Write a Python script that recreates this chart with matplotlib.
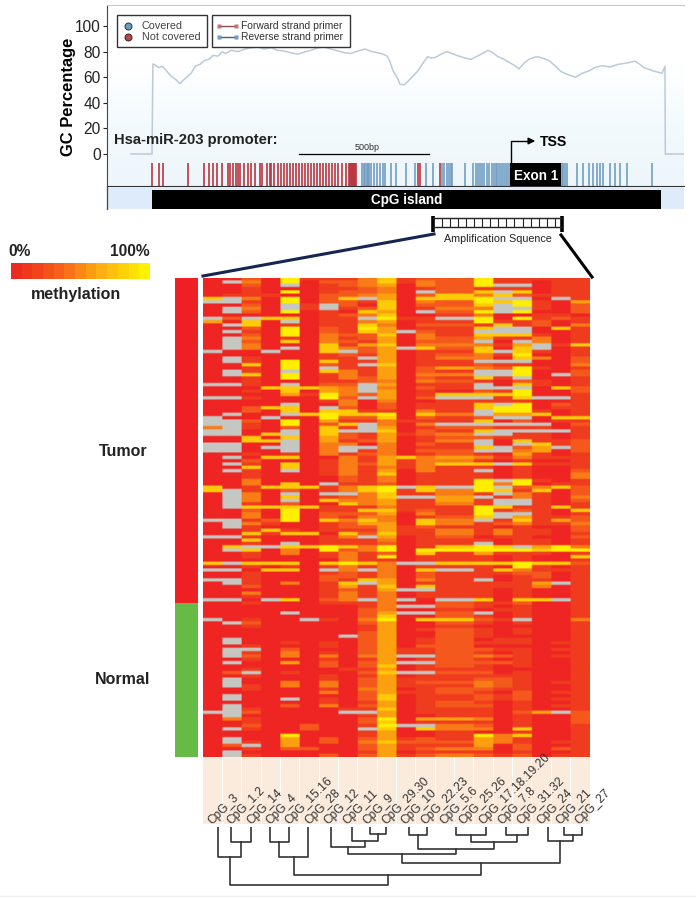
import numpy as np
import matplotlib
matplotlib.use("Agg")
import matplotlib.pyplot as plt
from matplotlib.colors import LinearSegmentedColormap, to_rgb
from matplotlib.patches import Rectangle

plt.rcParams["font.family"] = ["Liberation Sans", "DejaVu Sans"]

W, H = 696, 897

# GC curve (x in bp-ish screen units, y in percent)
gc_x = [131, 152, 152.9, 156, 159, 162, 164.4, 168, 171, 176, 180, 183, 186.7, 191, 195.6, 200, 204.4, 209,
        213, 218, 222, 226, 231, 238, 244, 251, 258, 264, 271, 278, 284, 291, 298, 304, 311, 318, 324, 331,
        338, 345, 351, 358, 365, 372, 378, 383, 387, 390, 393, 397, 400, 404, 407, 412, 418, 423, 427.6,
        431, 435.6, 441, 446.7, 452, 458, 465, 471, 480, 488, 493, 498, 504, 509, 514, 519, 524, 529, 534,
        538, 544, 549, 555, 561, 568, 575.6, 582, 589, 595, 602, 610, 618, 626, 635, 640, 644, 653, 662,
        665, 665.3, 684]
gc_y = [0, 0, 70.4, 69, 67.5, 68.5, 67, 63.5, 60.8, 58, 55, 57.5, 60, 63, 68.8, 70, 73, 74, 77, 76.5, 79.8,
        78.5, 81, 80, 81.8, 83, 83.6, 82, 83, 81, 80.5, 79, 78, 79.5, 81, 83, 83.6, 82, 80.5, 79, 78.5, 80.5,
        82, 80, 79, 78, 76.5, 72, 65, 60, 54.5, 54, 56, 60, 65, 71, 76, 75, 75.5, 78, 80, 78.5, 76.7, 75,
        74, 77.5, 81, 79, 76, 74, 71.6, 69.5, 66.5, 71, 74, 75.5, 76, 74.5, 73, 69, 64.4, 62, 60, 63, 65,
        67.5, 69, 68, 70, 71, 72.5, 70, 67.5, 65, 63, 68.5, 0, 0]
gc_ticks = [0, 20, 40, 60, 80, 100]

# CpG site positions along the promoter
cpg_red = [152.3, 158.7, 163.3, 187.7, 204.3, 209, 213.3, 217.3, 222.3, 228, 230, 233, 236, 238, 240, 244, 248,
           251, 255, 260, 262, 267, 270, 271, 274, 278, 281, 284, 287, 290, 293, 296, 299, 302, 305, 308, 311,
           314, 317, 320, 323, 326, 329, 332, 335, 338, 342, 346, 349, 350, 351, 352, 353, 354, 355, 356,
           418.3, 420, 440]
cpg_blue = [362, 363.5, 365, 366.5, 368, 369, 371, 374, 377, 380, 383, 385, 390.7, 396, 405.7, 415, 426, 433.3,
            442.3, 444.3, 446.7, 448.7, 451, 452.3, 465, 472.7, 476, 477.7, 480, 482, 484.3, 486.7, 488.7,
            491.7, 494, 496, 497.3, 498.7, 500.7, 502.7, 505, 506.7, 509.3, 561.7, 563, 565, 567.3, 577.3,
            582.7, 589.3, 593.3, 596.7, 600, 603.3, 610, 615, 620, 626.7, 652.3]

# methylation per row, levels 0 (red) .. 6 (yellow), G = no data; spaces only for counting
tumor_rows = [
    "00206 11135 12226 11111", "0G306 02235 13226 11011", "0020G 01234 03226 GG011", "00100 01123 01221 11011",
    "00106 01223 0G225 G5011", "01110 02234 02553 52111", "5G306 025G4 05556 GG0G1", "GG106 02215 03226 56104",
    "0020G 1G205 02225 G6102", "0G30G 1G125 01333 GG102", "0G206 01054 0G226 G6002", "00000 01235 00113 00110",
    "G2G55 011G6 11GG6 06121", "4050G 01134 01116 11201", "0G501 01153 02221 51203",
    "00206 02164 01115 GG051", "0G106 02154 G211G GG001", "00206 03225 03115 55101", "0G301 03124 03224 11301",
    "0G205 03214 0222G 0G301", "0G300 05145 03333 14G15", "0G30G 05324 G5225 05G01", "G00G0 05G24 01115 G5101",
    "00000 01214 01223 16001", "0G100 011G4 01333 05302", "0G106 05114 0111G GG002", "00506 021G5 01112 11003",
    "00106 0G114 02443 26101", "0G10G 05314 0211G G6002", "0G506 01314 0333G G60G2", "00106 01324 02115 1G001",
    "00100 01123 03221 02101", "GG10G 022G4 0111G 05101", "00055 543G3 0211G GG052", "00105 043G4 01002 16002",
    "00004 16324 01555 56001", "GG100 062G4 02GGG 15GG1", "00000 01303 00111 11001", "0000G 00302 01115 G6021",
    "00255 0G202 01115 66011", "00205 05511 0311G 66101", "0G00G 56556 0533G 44501", "G00G0 06225 02112 GG055",
    "GG206 04113 11115 02011", "GG106 025G3 03GGG GGG02", "3G102 051G4 01222 11101", "GG00G 05GG5 02115 GGGG1",
    "GG05G 05214 1233G G1101", "00505 04214 01222 11101", "0055G 04124 0133G 05112", "GG00G 03303 0211G 0G512",
    "GG0GG 03GG3 01115 G24G2", "GG00G 03G13 0222G G3402", "00101 03123 01221 04101", "0G055 00314 53443 13111",
    "00200 01314 13331 01001", "0G105 01324 13555 G5111", "00505 01313 13111 01001", "0G10G 01314 0311G 01002",
    "00100 01315 01111 01003", "00100 00213 01111 01003", "00300 00213 01116 G6101", "00305 0G112 01116 36011",
    "50155 51356 G5GG6 G2352", "5G102 01356 15336 51502", "0G30G 0GG35 11331 G3102", "0G305 01235 GG44G 13103",
    "0G30G 05334 11441 GG102", "0G102 00534 11331 GG101", "0G555 51113 11116 51151", "00206 01155 12116 12105",
    "00306 02224 03116 GG101", "00306 02133 01225 G4112", "GG126 05353 0533G 15142", "0G310 01244 05331 23113",
    "0G100 01224 12111 01002", "00151 01114 11331 31102", "00515 50525 11331 31101", "GG100 013G4 01220 11002",
    "00500 01113 01111 01101", "0010G 01112 0111G 01101", "05GG5 56536 01556 5G463", "0G503 06236 06666 66566",
    "00103 01312 05114 11101", "00100 01316 01111 01005", "00000 00311 01111 01001", "5G555 05653 GG555 56552",
    "00101 01313 01111 06101", "GG055 0G3G3 05GG1 53111", "00100 01213 02111 12201", "00100 02213 02111 01201",
    "GG100 02154 0311G 01101", "0G103 015G4 01111 114G1", "00200 01415 05111 11301", "00000 01214 GG111 01001",
    "00300 01313 01111 01001", "00100 01313 01111 01001", "GG0G5 023G3 G0GG5 055G1",
]
normal_rows = [
    "00100 01113 00221 12001", "00000 00013 GG221 01001", "00000 00023 00110 11001", "0000G 00024 GG22G 01001",
    "00000 00025 00221 01001", "G0100 G1036 05552 1G003", "0G200 00024 00221 01001", "00100 00014 00110 00001",
    "00000 00014 01221 01001", "00000 00024 00221 01001", "00000 00G24 00221 00001", "0G000 00024 01220 11001",
    "0G001 01024 01221 11011", "00100 01024 02220 00001", "0GG02 00024 11222 11011", "0G103 01024 11221 01001",
    "0G203 03034 GG223 21011", "00100 01014 01221 01001", "0G004 02024 GG222 21001", "00000 02025 01221 01001",
    "00100 00114 01111 00001", "02G01 00025 GG222 01001", "00100 01014 01111 11001", "0G000 01024 11112 21001",
    "0G003 03024 12223 21011", "0G103 03024 11113 21001", "00100 01034 01222 11001", "00000 03024 11221 02011",
    "0G000 00025 01112 12001", "0G00G 01025 01112 12011", "00000 01014 01221 01001", "0G002 03024 01222 01011",
    "0G100 00115 01111 01001", "GG200 00GG4 01111 024G2", "0G000 00014 00111 01002", "03100 00026 04443 01002",
    "00100 00025 01111 01002", "00200 20016 GG332 01001", "0G100 200G5 05333 05001", "00000 00014 00110 01001",
    "00006 00014 00116 35001", "0G004 02024 12114 31001", "0G104 02035 22224 31011", "02G04 00024 11114 02001",
    "00102 20024 12333 02021", "0G000 00014 01111 01001", "0G100 02024 12332 12011",
]
cpg_labels = ["CpG_3", "CpG_1.2", "CpG_14", "CpG_4", "CpG_15.16", "CpG_28", "CpG_12", "CpG_11", "CpG_9", "CpG_29.30",
              "CpG_10", "CpG_22.23", "CpG_5.6", "CpG_25.26", "CpG_17.18.19.20", "CpG_7.8", "CpG_31.32", "CpG_24",
              "CpG_21", "CpG_27"]

# dendrogram: leaf x in column units, merges are (node a, node b, height)
leaf_x = [0.76, 1.46, 2.50, 3.44, 4.46, 5.44, 6.63, 7.72, 8.65, 9.44, 10.63, 11.59, 13.07, 14.64, 15.66, 16.81,
          17.81, 18.64, 19.59]
merges = [(1, 2, 15.3), (0, 19, 30.3), (3, 4, 15.3), (21, 5, 30), (8, 9, 7), (7, 23, 13.7), (6, 24, 20),
          (10, 11, 7.7), (12, 13, 8.3), (14, 15, 8.3), (27, 28, 15.3), (26, 29, 21.7), (25, 30, 27.3),
          (17, 18, 8.3), (16, 32, 14), (31, 33, 36.3), (22, 34, 48), (20, 35, 57.7)]

level_colors = ["#EE2522", "#F03C1E", "#F5581C", "#F97C16", "#FCA00F", "#FFCA08", "#FFEE00", "#C6C6C2"]


def px_axes(x0, y0, x1, y1, **kw):
    return fig.add_axes([x0 / W, 1 - y1 / H, (x1 - x0) / W, (y1 - y0) / H], **kw)


def pts(px):
    return px * 0.72


fig = plt.figure(figsize=(W / 100, H / 100), dpi=100, facecolor="white")

# overlay in screen coordinates for the annotation graphics
over = px_axes(0, 0, W, H, zorder=5)
over.set_xlim(0, W)
over.set_ylim(H, 0)
over.axis("off")
over.patch.set_alpha(0)

# --- GC plot ---
ax = px_axes(107, 5, 684, 186, zorder=1)
ax.set_xlim(107, 684)
ax.set_ylim((154 - 186) / 1.28, (154 - 5) / 1.28)
grad = np.linspace(0, 1, 64).reshape(-1, 1)
bg = LinearSegmentedColormap.from_list("bg", ["#FFFFFF", "#FFFFFF", "#F3FAFD", "#EDF6FB"])
ax.imshow(grad, extent=(107, 684, ax.get_ylim()[0], ax.get_ylim()[1]), origin="upper", aspect="auto", cmap=bg)
ax.plot(gc_x, gc_y, color="#BCCAD9", linewidth=1.1)
ymin = ax.get_ylim()[0]
ax.vlines(cpg_blue, ymin, ymin + 23 / 1.28, color="#6F9CC2", linewidth=1.3, alpha=0.9)
ax.vlines(cpg_red, ymin, ymin + 23 / 1.28, color="#B8323C", linewidth=1.3, alpha=0.9)
ax.set_yticks(gc_ticks)
ax.set_xticks([])
ax.tick_params(axis="y", labelsize=pts(15.5), length=3, width=0.8, pad=1.5, colors="#222222")
ax.set_ylabel("GC Percentage", fontsize=pts(16.5), fontweight="bold", labelpad=-1, y=0.49)
ax.spines["right"].set_visible(False)
ax.spines["top"].set_color("#C8C8C8")
ax.spines["bottom"].set_color("#333333")
ax.spines["left"].set_color("#444444")

# strip under the plot
over.add_patch(Rectangle((107, 187), 577, 22, color="#DDEBFA", lw=0))
over.plot([107, 107], [186, 209], color="#444444", lw=0.9)
over.add_patch(Rectangle((152, 190), 509, 19, color="black", lw=0))
over.text(406.5, 200, "CpG island", color="white", fontweight="bold", fontsize=pts(13.5), ha="center", va="center")
over.add_patch(Rectangle((510, 163), 51, 23, color="black", lw=0))
over.text(536, 176, "Exon 1", color="white", fontweight="bold", fontsize=pts(13.5), ha="center", va="center")
over.plot([511, 511, 530], [163, 141, 141], color="black", lw=1.0)
over.annotate("", xy=(538, 141), xytext=(528, 141), arrowprops=dict(arrowstyle="-|>", color="black", lw=1.0))
over.text(540, 141.5, "TSS", fontweight="bold", fontsize=pts(14), va="center")
over.text(114, 140, "Hsa-miR-203 promoter:", fontweight="bold", fontsize=pts(14.8), va="center", color="#222222")
over.plot([299, 429], [154, 154], color="black", lw=0.9)
over.text(367, 147, "500bp", fontsize=pts(9), ha="center", va="center", color="#333333")

# legends in the plot
over.add_patch(Rectangle((117, 15), 90, 32, fc="white", ec="#333333", lw=1))
over.add_patch(Rectangle((212, 15), 138, 32, fc="white", ec="#333333", lw=1))
over.plot([128], [26], "o", ms=5, mfc="#6A9CC0", mec="#223344", mew=0.7)
over.plot([128], [37], "o", ms=5, mfc="#B84848", mec="#332222", mew=0.7)
over.text(142, 26, "Covered", fontsize=pts(10.8), va="center", color="#444444")
over.text(142, 37, "Not covered", fontsize=pts(10.8), va="center", color="#444444")
over.plot([219, 236], [26, 26], color="#8A4A50", lw=1)
over.plot([219, 236], [37, 37], color="#4A5E7A", lw=1)
over.plot([219, 236], [26, 26], "s", ms=3.5, mfc="#C8707A", mec="none")
over.plot([219, 236], [37, 37], "s", ms=3.5, mfc="#6F9CC2", mec="none")
over.text(241, 26, "Forward strand primer", fontsize=pts(10.3), va="center", color="#333333")
over.text(241, 37, "Reverse strand primer", fontsize=pts(10.3), va="center", color="#333333")

# amplification bracket
over.plot([433, 433], [216, 232], color="black", lw=2.6, solid_capstyle="butt")
over.plot([562, 562], [216, 232], color="black", lw=2.6, solid_capstyle="butt")
over.plot([433, 562], [218, 218], color="#222222", lw=1)
over.plot([433, 562], [227, 227], color="#222222", lw=1)
over.vlines(np.arange(441.5, 560, 8.1), 218, 227, color="#222222", lw=0.8)
over.text(498, 239.5, "Amplification Squence", fontsize=pts(10.7), ha="center", va="center", color="#222222")
over.plot([434, 203], [234, 276], color="#162650", lw=2.2)
over.plot([561, 592], [235, 277], color="black", lw=2.2)

# --- colour scale ---
cbar = px_axes(11, 263, 150, 279, zorder=2)
cbar.imshow(np.linspace(0, 1, 13).reshape(1, -1), aspect="auto", interpolation="nearest",
            cmap=LinearSegmentedColormap.from_list("scale", ["#EE2A20", "#F6601A", "#FFB010", "#FFF200"]))
cbar.axis("off")
over.text(8, 252, "0%", fontweight="bold", fontsize=pts(15.5), va="center", color="#222222")
over.text(150, 251, "100%", fontweight="bold", fontsize=pts(15.5), ha="right", va="center", color="#222222")
over.text(31, 295, "methylation", fontweight="bold", fontsize=pts(16), va="center", color="#222222")

# --- group bar ---
over.add_patch(Rectangle((175, 278), 23, 325, color="#EE2024", lw=0))
over.add_patch(Rectangle((175, 603), 23, 154, color="#66BB46", lw=0))
over.text(123, 451, "Tumor", fontweight="bold", fontsize=pts(16), ha="center", va="center", color="#222222")
over.text(123, 680, "Normal", fontweight="bold", fontsize=pts(16), ha="center", va="center", color="#222222")

# --- heatmap ---
rows = [r.replace(" ", "") for r in tumor_rows + normal_rows]
mat = np.array([[7 if c == "G" else int(c) for c in r] for r in rows])
rgb = np.array([to_rgb(c) for c in level_colors])[mat]
# the source is a soft scan: repeat cells so bilinear only softens the edges
rgb = np.repeat(np.repeat(rgb, 2, axis=0), 12, axis=1)
hm = px_axes(203, 278, 590, 757, zorder=2)
hm.imshow(rgb, aspect="auto", interpolation="bilinear")
hm.axis("off")

# --- label strip ---
n_col = len(cpg_labels)
strip = px_axes(203, 757, 590, 824, zorder=2)
strip.set_xlim(0, n_col)
strip.set_ylim(1, 0)
strip.bar(np.arange(n_col) + 0.5, [1] * n_col, width=0.95, color="#FBEBDD", align="center")
strip.axis("off")
col_w = 387 / n_col
for i, lab in enumerate(cpg_labels):
    over.text(203 + (i + 0.47) * col_w, 825, lab, rotation=45, rotation_mode="anchor", ha="left", va="baseline",
              fontsize=pts(12), color="#333333")

# --- dendrogram ---
den = px_axes(203, 827, 590, 887, zorder=2)
den.set_xlim(0, n_col)
den.set_ylim(60, 0)
den.axis("off")
node_x = list(leaf_x)
node_h = [0] * len(leaf_x)
for a, b, h in merges:
    den.plot([node_x[a], node_x[a], node_x[b], node_x[b]], [node_h[a], h, h, node_h[b]], color="#333333", lw=1.2)
    node_x.append((node_x[a] + node_x[b]) / 2)
    node_h.append(h)

over.plot([0, W], [896, 896], color="#EEEEEE", lw=1)

fig.savefig("out.png", dpi=100)
